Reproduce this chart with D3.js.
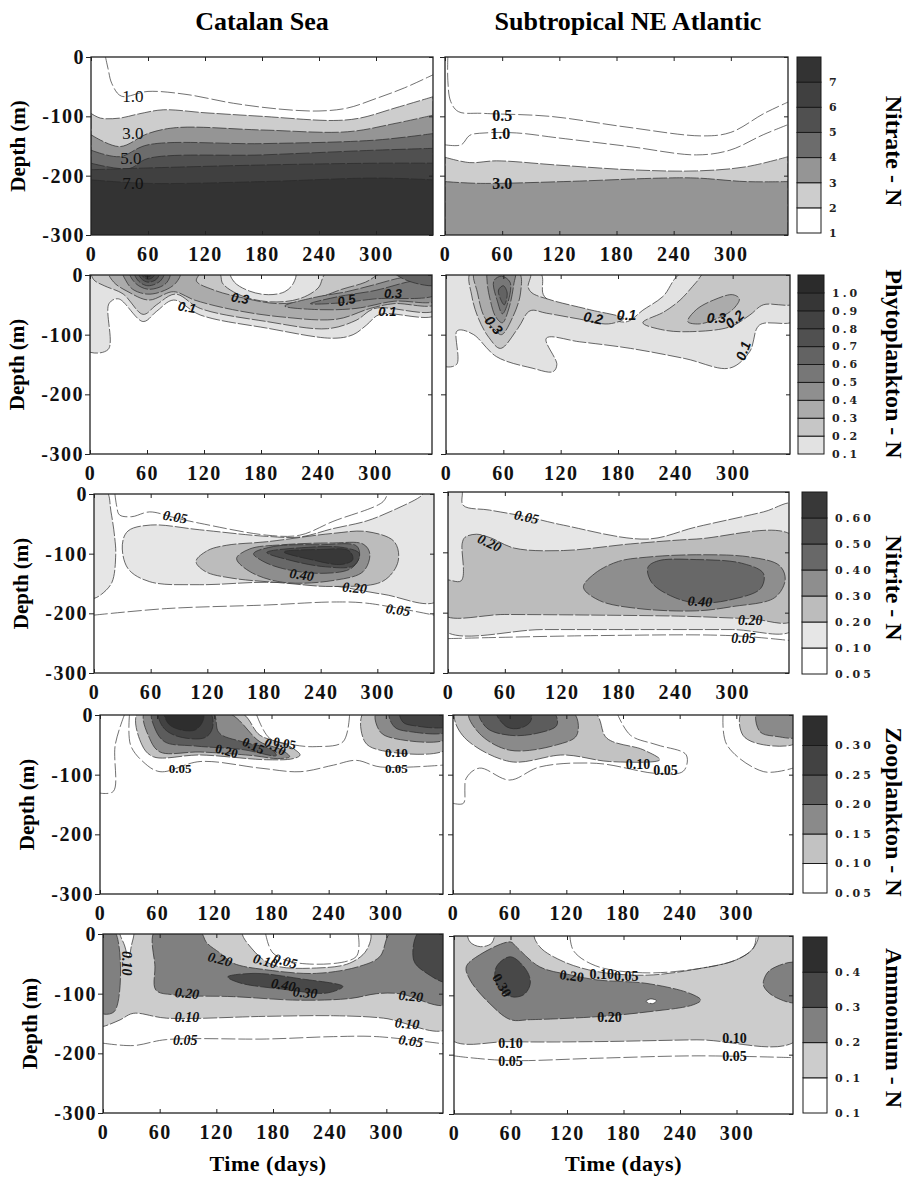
<!DOCTYPE html>
<html>
<head>
<meta charset="utf-8">
<script src="https://cdn.jsdelivr.net/npm/d3@7"></script>
<style>
  body { margin: 0; background: #fff; }
</style>
</head>
<body>
<div id="wrapper"></div>
<script>
// ---------- Data ----------
const timeTicks = [0, 60, 120, 180, 240, 300];
const depthTicks = [0, -100, -200, -300];
const columnTitles = ["Catalan Sea", "Subtropical NE Atlantic"];
const variableNames = ["Nitrate - N", "Phytoplankton - N", "Nitrite - N", "Zooplankton - N", "Ammonium - N"];

// colour bar: lower bound of each band, and the labels printed on the bar
const nitrateLevels = [1, 2, 3, 4, 5, 6, 7];
const nitrateBarLabels = ["1", "2", "3", "4", "5", "6", "7"];
const phytoLevels = [0.1, 0.2, 0.3, 0.4, 0.5, 0.6, 0.7, 0.8, 0.9, 1.0];
const phytoBarLabels = ["0.1", "0.2", "0.3", "0.4", "0.5", "0.6", "0.7", "0.8", "0.9", "1.0"];
const nitriteLevels = [0.05, 0.10, 0.20, 0.30, 0.40, 0.50, 0.60];
const nitriteBarLabels = ["0.05", "0.10", "0.20", "0.30", "0.40", "0.50", "0.60"];
const zooLevels = [0.05, 0.10, 0.15, 0.20, 0.25, 0.30];
const zooBarLabels = ["0.05", "0.10", "0.15", "0.20", "0.25", "0.30"];
const ammoniumLevels = [0.05, 0.1, 0.2, 0.3, 0.4];
const ammoniumBarLabels = ["0.1", "0.1", "0.2", "0.3", "0.4"];

// contour fields as [time (days), depth (m)] outlines, value = band lower bound
// nitrate: contour lines, everything below the line is >= value
const catalanNitrate = [
  { v: 2, pts: [[0,95],[10,103],[30,103],[50,96],[76,89],[120,94],[180,100],[255,107],[283,103],[320,86],[360,67]] },
  { v: 3, pts: [[0,131],[30,151],[60,129],[90,119],[180,123],[270,126],[320,112],[360,98]] },
  { v: 4, pts: [[0,157],[30,168],[60,148],[180,146],[300,140],[360,129]] },
  { v: 5, pts: [[0,179],[40,188],[60,171],[180,165],[300,157],[360,154]] },
  { v: 6, pts: [[0,190],[60,187],[180,182],[300,179],[360,179]] },
  { v: 7, pts: [[0,207],[60,213],[180,210],[300,204],[360,207]] }
];
const catalanNitrateLines = [
  [[15,-2],[18,20],[22,45],[32,66],[60,58],[100,63],[150,78],[200,88],[240,91],[270,86],[300,70],[330,52],[360,30]]
];
const catalanNitrateLabels = [
  { text: "1.0", t: 44, d: 66, a: 0 }, { text: "3.0", t: 44, d: 128, a: 0 },
  { text: "5.0", t: 42, d: 171, a: 0 }, { text: "7.0", t: 44, d: 213, a: 0 }
];

const atlanticNitrate = [
  { v: 2, pts: [[0,169],[26,178],[54,175],[117,182],[194,190],[264,192],[316,185],[360,168]] },
  { v: 3, pts: [[0,210],[37,213],[124,210],[229,204],[264,204],[316,210],[360,210]] }
];
const atlanticNitrateLines = [
  [[3,-2],[3,40],[6,75],[14,92],[40,95],[110,100],[190,118],[270,133],[300,127],[335,95],[360,76]],
  [[0,148],[17,148],[26,132],[42,128],[75,128],[117,136],[194,151],[264,165],[299,157],[334,131],[360,114]]
];
const atlanticNitrateLabels = [
  { text: "0.5", t: 60, d: 98, a: 0 }, { text: "1.0", t: 58, d: 129, a: 0 }, { text: "3.0", t: 60, d: 213, a: 0 }
];

const catalanPhyto = [
  { v: 0.1, pts: [[-5,-5],[365,-5],[365,66],[305,66],[291,84],[277,100],[256,106],[186,89],[116,67],[88,42],[70,61],[56,78],[30,40],[20,48],[19,125],[-5,125]] },
  { v: 0, pts: [[148,-5],[152,12],[168,27],[188,33],[205,28],[214,14],[216,-5]] },
  { v: 0.2, pts: [[2,-5],[135,-5],[140,15],[160,35],[190,45],[220,40],[240,22],[250,-5],[365,-5],[365,58],[300,56],[280,76],[250,90],[186,78],[116,56],[90,32],[70,50],[56,66],[35,32],[15,18],[4,8]] },
  { v: 0.3, pts: [[20,-5],[115,-5],[112,10],[130,25],[160,38],[200,48],[240,38],[265,24],[290,12],[310,-5],[365,-5],[365,48],[320,48],[295,56],[260,74],[200,70],[150,58],[110,42],[88,28],[62,42],[40,28],[25,12]] },
  { v: 0.4, pts: [[35,-5],[95,-5],[90,14],[75,28],[60,32],[45,24],[38,10]] },
  { v: 0.4, pts: [[205,52],[235,38],[270,28],[300,16],[330,4],[365,2],[365,42],[320,44],[280,56],[240,58]] },
  { v: 0.5, pts: [[42,-5],[84,-5],[80,14],[62,24],[48,14]] },
  { v: 0.5, pts: [[232,48],[262,36],[300,26],[340,10],[365,8],[365,32],[300,40],[262,47]] },
  { v: 0.6, pts: [[47,-5],[78,-5],[74,10],[61,18],[51,10]] },
  { v: 0.6, pts: [[320,-5],[365,-5],[365,16],[335,10]] },
  { v: 0.7, pts: [[51,-5],[73,-5],[70,7],[61,12],[54,6]] },
  { v: 0.8, pts: [[54,-5],[69,-5],[66,4],[61,7],[56,3]] },
  { v: 0.9, pts: [[56,-5],[66,-5],[63,2],[59,3]] }
];
const catalanPhytoLabels = [
  { text: "0.3", t: 158, d: 39, a: 10 }, { text: "0.5", t: 270, d: 42, a: -12 },
  { text: "0.3", t: 319, d: 31, a: 0 }, { text: "0.1", t: 102, d: 54, a: 10 },
  { text: "0.1", t: 313, d: 61, a: 0 }
];

const atlanticPhyto = [
  { v: 0.1, pts: [[-5,-5],[98,-5],[103,36],[140,60],[175,76],[190,78],[206,59],[227,36],[248,-5],[365,-5],[365,76],[328,84],[318,128],[297,156],[250,140],[193,123],[140,112],[105,106],[116,150],[112,162],[90,156],[53,137],[29,100],[15,92],[11,95],[11,150],[-5,150]] },
  { v: 0.2, pts: [[26,-5],[88,-5],[86,20],[90,30],[110,42],[150,58],[186,73],[170,82],[140,74],[105,64],[88,60],[75,90],[57,123],[45,105],[34,73],[27,35]] },
  { v: 0.2, pts: [[206,80],[228,62],[245,42],[262,12],[272,-5],[365,-5],[365,47],[332,50],[318,67],[297,87],[255,95],[227,92]] },
  { v: 0.3, pts: [[30,-5],[76,-5],[78,30],[70,70],[58,100],[50,90],[40,70],[33,30]] },
  { v: 0.3, pts: [[253,78],[262,58],[280,42],[300,33],[307,40],[300,58],[285,72],[265,82]] },
  { v: 0.4, pts: [[44,-5],[72,-5],[71,15],[66,55],[59,80],[52,70],[46,40],[43,10]] },
  { v: 0.5, pts: [[50,10],[58,2],[67,12],[65,45],[59,65],[54,45]] },
  { v: 0.6, pts: [[55,25],[60,18],[64,30],[61,50],[57,40]] }
];
const atlanticPhytoLabels = [
  { text: "0.3", t: 50, d: 84, a: 50 }, { text: "0.2", t: 154, d: 72, a: 10 },
  { text: "0.1", t: 189, d: 67, a: 0 }, { text: "0.3", t: 283, d: 72, a: 0 },
  { text: "0.2", t: 302, d: 74, a: -40 }, { text: "0.1", t: 311, d: 127, a: -70 }
];

const catalanNitrite = [
  { v: 0.1, pts: [[-5,-5],[13,-5],[18,30],[22,74],[23,102],[19,148],[8,168],[0,175],[-5,175]] },
  { v: 0.1, pts: [[30,85],[36,62],[60,52],[112,60],[183,71],[218,72],[253,58],[289,45],[320,25],[345,5],[352,-5],[365,-5],[365,178],[306,168],[253,154],[183,148],[112,152],[59,147],[36,125]] },
  { v: 0.2, pts: [[108,113],[120,95],[140,86],[183,80],[253,66],[289,63],[318,80],[322,113],[306,146],[253,155],[200,149],[146,141],[118,130]] },
  { v: 0.3, pts: [[151,108],[165,92],[200,85],[253,82],[285,84],[292,100],[285,130],[253,145],[200,148],[165,130]] },
  { v: 0.4, pts: [[169,100],[190,88],[240,85],[278,87],[281,105],[272,125],[240,133],[200,125],[178,112]] },
  { v: 0.5, pts: [[183,98],[220,90],[265,90],[281,100],[275,120],[245,122],[205,110]] },
  { v: 0.6, pts: [[201,97],[240,93],[270,95],[274,110],[262,118],[230,110]] }
];
const catalanNitriteLines = [
  [[22,-2],[24,20],[27,35],[40,38],[59,30],[86,40],[112,49],[183,69],[218,69],[253,46],[306,13],[311,-2]],
  [[0,203],[77,192],[183,186],[253,181],[289,183],[360,203]]
];
const catalanNitriteLabels = [
  { text: "0.05", t: 86, d: 38, a: 10 }, { text: "0.40", t: 220, d: 135, a: 8 },
  { text: "0.20", t: 276, d: 157, a: 5 }, { text: "0.05", t: 322, d: 194, a: 8 }
];

const atlanticNitrite = [
  { v: 0.1, pts: [[-5,-5],[14,-5],[16,22],[44,30],[83,41],[122,55],[210,78],[262,58],[333,33],[365,20],[365,120],[365,228],[300,228],[200,228],[100,228],[-5,228],[-5,120]] },
  { v: 0.2, pts: [[-5,147],[14,147],[15,85],[18,75],[30,70],[45,76],[70,93],[122,97],[193,86],[262,78],[365,74],[365,212],[319,210],[250,206],[150,204],[60,203],[-5,203]] },
  { v: 0.3, pts: [[143,158],[155,135],[180,115],[210,108],[262,104],[320,108],[350,122],[356,145],[345,175],[300,190],[262,197],[200,193],[160,180]] },
  { v: 0.4, pts: [[211,125],[222,114],[262,112],[310,118],[333,135],[330,160],[300,178],[262,184],[235,172],[215,150]] }
];
const atlanticNitriteLines = [
  [[0,243],[157,238],[298,238],[360,246]]
];
const atlanticNitriteLabels = [
  { text: "0.05", t: 83, d: 41, a: 12 }, { text: "0.20", t: 44, d: 84, a: 25 },
  { text: "0.40", t: 266, d: 181, a: 3 }, { text: "0.20", t: 319, d: 213, a: 0 },
  { text: "0.05", t: 312, d: 242, a: 0 }
];

const catalanZoo = [
  { v: 0.10, pts: [[40,-5],[44,50],[56,70],[105,67],[175,75],[203,73],[210,67],[196,50],[168,34],[147,-5]] },
  { v: 0.10, pts: [[277,-5],[278,45],[294,59],[365,56],[365,-5]] },
  { v: 0.15, pts: [[47,-5],[52,39],[63,62],[105,62],[160,68],[186,73],[199,70],[190,58],[168,45],[133,-5]] },
  { v: 0.15, pts: [[290,-5],[294,28],[308,39],[365,39],[365,-5]] },
  { v: 0.20, pts: [[55,-5],[57,20],[68,45],[100,52],[150,58],[185,68],[180,58],[150,45],[125,30],[118,-5]] },
  { v: 0.20, pts: [[304,-5],[309,20],[326,28],[365,27],[365,-5]] },
  { v: 0.25, pts: [[62,-5],[66,20],[80,35],[110,38],[118,22],[115,-5]] },
  { v: 0.25, pts: [[315,-5],[318,12],[330,18],[365,18],[365,-5]] },
  { v: 0.30, pts: [[68,-5],[72,15],[85,25],[100,25],[108,10],[108,-5]] }
];
const catalanZooLines = [
  [[26,-2],[16,50],[14,128],[0,131]],
  [[31,-2],[32,50],[45,78],[63,95],[105,78],[168,89],[210,95],[245,84],[269,76],[294,87],[360,84]],
  [[164,-2],[178,39],[203,50],[227,53],[255,45],[262,-2]]
];
const catalanZooLabels = [
  { text: "0.05", t: 84, d: 90, a: 0 }, { text: "0.20", t: 133, d: 60, a: 15 },
  { text: "0.15", t: 161, d: 51, a: 25 }, { text: "0.10", t: 184, d: 53, a: 30 },
  { text: "0.05", t: 194, d: 47, a: 10 }, { text: "0.10", t: 311, d: 62, a: 0 },
  { text: "0.05", t: 311, d: 90, a: 0 }
];

const atlanticZoo = [
  { v: 0.10, pts: [[3,-5],[10,34],[60,78],[117,67],[166,78],[219,75],[201,58],[163,39],[149,-5]] },
  { v: 0.10, pts: [[306,-5],[307,34],[329,50],[365,45],[365,-5]] },
  { v: 0.15, pts: [[17,-5],[28,31],[60,59],[110,50],[131,34],[127,-5]] },
  { v: 0.15, pts: [[322,-5],[325,28],[343,36],[365,36],[365,-5]] },
  { v: 0.20, pts: [[28,-5],[36,22],[60,34],[88,31],[110,17],[106,-5]] },
  { v: 0.25, pts: [[46,-5],[57,20],[71,22],[82,11],[82,-5]] }
];
const atlanticZooLines = [
  [[0,148],[11,148],[14,106],[28,89],[60,109],[92,87],[152,81],[216,98],[244,94],[247,67],[216,50],[188,34],[174,-2]],
  [[286,-2],[290,50],[329,95],[360,89]]
];
const atlanticZooLabels = [
  { text: "0.10", t: 196, d: 83, a: 0 }, { text: "0.05", t: 225, d: 92, a: 0 }
];

const catalanAmmonium = [
  { v: 0.1, pts: [[-5,-5],[365,-5],[365,158],[297,141],[244,137],[173,138],[67,141],[32,133],[18,144],[0,155],[-5,155]] },
  { v: 0, pts: [[148,-5],[159,27],[180,52],[226,57],[261,49],[279,27],[282,-5]] },
  { v: 0, pts: [[18,-5],[32,-5],[30,20],[27,40],[23,20]] },
  { v: 0.2, pts: [[-5,-5],[12,-5],[12,130],[-5,130]] },
  { v: 0.2, pts: [[55,-5],[102,-5],[110,15],[124,32],[138,49],[173,60],[226,66],[272,54],[293,38],[306,-5],[365,-5],[365,117],[314,100],[290,100],[262,108],[209,111],[138,105],[75,102],[56,94],[55,55]] },
  { v: 0.3, pts: [[132,72],[161,66],[209,75],[254,88],[237,99],[193,93],[145,82]] },
  { v: 0.3, pts: [[335,-5],[329,44],[343,66],[365,80],[365,-5]] }
];
const catalanAmmoniumLines = [
  [[0,183],[32,187],[67,177],[173,176],[244,172],[290,172],[360,184]],
  [[172,-2],[180,32],[208,49],[268,38],[270,-2]]
];
const catalanAmmoniumLabels = [
  { text: "0.10", t: 25, d: 49, a: 90 }, { text: "0.20", t: 124, d: 42, a: 15 },
  { text: "0.10", t: 172, d: 45, a: 15 }, { text: "0.05", t: 193, d: 45, a: 15 },
  { text: "0.40", t: 191, d: 85, a: 10 }, { text: "0.30", t: 214, d: 98, a: 5 },
  { text: "0.20", t: 89, d: 99, a: 5 }, { text: "0.10", t: 89, d: 139, a: 0 },
  { text: "0.05", t: 87, d: 177, a: 0 }, { text: "0.20", t: 326, d: 104, a: 5 },
  { text: "0.10", t: 322, d: 150, a: 5 }, { text: "0.05", t: 326, d: 179, a: 8 }
];

const atlanticAmmonium = [
  { v: 0.1, pts: [[-5,-5],[365,-5],[365,174],[258,175],[152,178],[60,178],[-5,172]] },
  { v: 0, pts: [[86,-5],[91,18],[116,43],[152,60],[205,66],[260,55],[300,40],[318,20],[322,-5]] },
  { v: 0, pts: [[15,-5],[17,10],[28,18],[40,12],[42,-5]] },
  { v: 0.2, pts: [[13,52],[27,32],[60,10],[66,18],[91,52],[125,66],[152,74],[205,80],[251,97],[262,108],[254,116],[205,128],[152,136],[81,141],[60,141],[38,114],[17,74]] },
  { v: 0, pts: [[204,110],[209,106],[215,109],[211,114]] },
  { v: 0.2, pts: [[329,74],[336,57],[365,46],[365,111],[340,102],[329,85]] },
  { v: 0.3, pts: [[45,52],[60,35],[77,58],[81,80],[74,99],[60,102],[45,80]] }
];
const atlanticAmmoniumLines = [
  [[0,202],[16,205],[60,210],[152,206],[258,202],[360,205]],
  [[123,-2],[127,25],[150,50],[200,62],[260,55],[300,40],[318,20],[321,-2]]
];
const atlanticAmmoniumLabels = [
  { text: "0.30", t: 51, d: 83, a: 60 }, { text: "0.20", t: 125, d: 67, a: 8 },
  { text: "0.10", t: 157, d: 65, a: 0 }, { text: "0.05", t: 183, d: 67, a: 0 },
  { text: "0.20", t: 165, d: 136, a: 0 }, { text: "0.10", t: 60, d: 180, a: 0 },
  { text: "0.05", t: 60, d: 210, a: 0 }, { text: "0.10", t: 298, d: 172, a: 0 },
  { text: "0.05", t: 298, d: 203, a: 0 }
];

// ---------- Styles / layout ----------
const palettes = [
  ["#ffffff", "#cdcdcd", "#959595", "#6c6c6c", "#505050", "#404040", "#333333"],
  ["#e2e2e2", "#c6c6c6", "#ababab", "#8f8f8f", "#777777", "#636363", "#505050", "#424242", "#363636", "#2b2b2b"],
  ["#ffffff", "#e6e6e6", "#bcbcbc", "#8e8e8e", "#686868", "#4c4c4c", "#383838"],
  ["#ffffff", "#c2c2c2", "#8a8a8a", "#5c5c5c", "#424242", "#2e2e2e"],
  ["#ffffff", "#cccccc", "#808080", "#484848", "#2e2e2e"]
];
const levelSets = [nitrateLevels, phytoLevels, nitriteLevels, zooLevels, ammoniumLevels];
const barLabelSets = [nitrateBarLabels, phytoBarLabels, nitriteBarLabels, zooBarLabels, ammoniumBarLabels];

const panelData = [
  [{ fills: catalanNitrate, lines: catalanNitrateLines, labels: catalanNitrateLabels, below: true },
   { fills: atlanticNitrate, lines: atlanticNitrateLines, labels: atlanticNitrateLabels, below: true }],
  [{ fills: catalanPhyto, lines: [], labels: catalanPhytoLabels },
   { fills: atlanticPhyto, lines: [], labels: atlanticPhytoLabels }],
  [{ fills: catalanNitrite, lines: catalanNitriteLines, labels: catalanNitriteLabels },
   { fills: atlanticNitrite, lines: atlanticNitriteLines, labels: atlanticNitriteLabels }],
  [{ fills: catalanZoo, lines: catalanZooLines, labels: catalanZooLabels },
   { fills: atlanticZoo, lines: atlanticZooLines, labels: atlanticZooLabels }],
  [{ fills: catalanAmmonium, lines: catalanAmmoniumLines, labels: catalanAmmoniumLabels },
   { fills: atlanticAmmonium, lines: atlanticAmmoniumLines, labels: atlanticAmmoniumLabels }]
];

// panel boxes (the figure is a scan, rows are slightly shifted)
const layout = [
  { boxes: [[91, 433, 57, 235], [445, 788, 57, 235]], bar: [797, 821, 57, 233], titleY: 151 },
  { boxes: [[90, 432, 275, 454], [446, 790, 275, 454]], bar: [798, 824, 275, 454], titleY: 364 },
  { boxes: [[94, 434, 494, 673], [448, 789, 492, 673]], bar: [802, 827, 492, 674], titleY: 588 },
  { boxes: [[100, 443, 715, 894], [453, 793, 715, 894]], bar: [803, 827, 716, 893], titleY: 812 },
  { boxes: [[103, 443, 934, 1113], [454, 793, 936, 1114]], bar: [803, 827, 937, 1113], titleY: 1028 }
];

const labelFonts = [
  [{ f: "Liberation Serif", w: 400, s: "normal", z: 17 }, { f: "Liberation Serif", w: 700, s: "normal", z: 16 }],
  [{ f: "Liberation Sans", w: 700, s: "italic", z: 13 }, { f: "Liberation Sans", w: 700, s: "italic", z: 14 }],
  [{ f: "Liberation Serif", w: 700, s: "italic", z: 14 }, { f: "Liberation Serif", w: 700, s: "italic", z: 14 }],
  [{ f: "Liberation Serif", w: 700, s: "normal", z: 13 }, { f: "Liberation Serif", w: 700, s: "normal", z: 14 }],
  [{ f: "Liberation Serif", w: 700, s: "italic", z: 14 }, { f: "Liberation Serif", w: 700, s: "normal", z: 14 }]
];

const serif = "'Liberation Serif', 'Times New Roman', serif";

const svg = d3.select("#wrapper")
  .append("svg")
    .attr("width", 906)
    .attr("height", 1179)
    .style("background", "#fff");

function colorFor(v, levels, palette) {
  let idx = -1;
  levels.forEach((l, i) => { if (v >= l - 1e-9) idx = i; });
  return idx < 0 ? "#ffffff" : palette[idx];
}

// column titles
columnTitles.forEach((t, c) => {
  svg.append("text")
    .attr("x", c === 0 ? 262 : 628)
    .attr("y", 30)
    .attr("text-anchor", "middle")
    .style("font-family", serif)
    .style("font-weight", 700)
    .style("font-size", "26px")
    .text(t);
});

layout.forEach((row, r) => {
  row.boxes.forEach((b, c) => drawPanel(r, c, b));
  drawBar(r, row.bar);

  // variable name, rotated on the right
  svg.append("text")
    .attr("transform", `translate(886, ${row.titleY}) rotate(90)`)
    .attr("text-anchor", "middle")
    .style("font-family", serif)
    .style("font-weight", 700)
    .style("font-size", "24px")
    .text(variableNames[r]);
});

function drawPanel(r, c, b) {
  const [x0, x1, y0, y1] = b;
  const data = panelData[r][c];
  const levels = levelSets[r];
  const palette = palettes[r];
  const x = d3.scaleLinear().domain([0, 360]).range([x0, x1]);
  const y = d3.scaleLinear().domain([0, -300]).range([y0, y1]);
  const id = `clip-${r}-${c}`;

  svg.append("clipPath").attr("id", id)
    .append("rect")
      .attr("x", x0).attr("y", y0)
      .attr("width", x1 - x0).attr("height", y1 - y0);

  const g = svg.append("g").attr("clip-path", `url(#${id})`);
  g.append("rect")
    .attr("x", x0).attr("y", y0)
    .attr("width", x1 - x0).attr("height", y1 - y0)
    .attr("fill", "#fff");

  const closed = d3.line()
    .x(p => x(p[0])).y(p => y(-p[1]))
    .curve(d3.curveCatmullRomClosed.alpha(0.5));
  const open = d3.line()
    .x(p => x(p[0])).y(p => y(-p[1]))
    .curve(d3.curveCatmullRom.alpha(0.5));
  const below = d3.area()
    .x(p => x(p[0])).y0(y1 + 5).y1(p => y(-p[1]))
    .curve(d3.curveCatmullRom.alpha(0.5));

  data.fills.forEach(s => {
    g.append("path")
      .attr("d", data.below ? below(s.pts) : closed(s.pts))
      .attr("fill", colorFor(s.v, levels, palette))
      .attr("stroke", "#2a2a2a")
      .attr("stroke-width", 0.7)
      .attr("stroke-dasharray", "14,2");
  });

  data.lines.forEach(l => {
    g.append("path")
      .attr("d", open(l))
      .attr("fill", "none")
      .attr("stroke", "#333")
      .attr("stroke-width", 0.7)
      .attr("stroke-dasharray", "14,3");
  });

  const font = labelFonts[r][c];
  g.selectAll(".clabel")
    .data(data.labels)
    .join("text")
      .attr("transform", d => `translate(${x(d.t)}, ${y(-d.d)}) rotate(${d.a})`)
      .attr("text-anchor", "middle")
      .attr("dy", "0.35em")
      .style("font-family", font.f)
      .style("font-weight", font.w)
      .style("font-style", font.s)
      .style("font-size", font.z + "px")
      .style("fill", "#111")
      .text(d => d.text);

  // frame
  svg.append("rect")
    .attr("x", x0).attr("y", y0)
    .attr("width", x1 - x0).attr("height", y1 - y0)
    .attr("fill", "none")
    .attr("stroke", "#222")
    .attr("stroke-width", 1.3);

  const tickFont = sel => sel.selectAll("text")
    .style("font-family", serif)
    .style("font-weight", 700)
    .style("font-size", "20px")
    .style("letter-spacing", "1.5px")
    .attr("fill", "#111");

  // bottom axis (labels) with inward ticks
  const xAxis = svg.append("g")
    .attr("transform", `translate(0, ${y1})`)
    .call(d3.axisBottom(x).tickValues(timeTicks).tickSizeInner(-4).tickSizeOuter(0).tickPadding(12).tickFormat(d3.format("d")));
  xAxis.select(".domain").remove();
  tickFont(xAxis);

  const topAxis = svg.append("g")
    .attr("transform", `translate(0, ${y0})`)
    .call(d3.axisTop(x).tickValues(timeTicks).tickSizeInner(-4).tickSizeOuter(0).tickFormat(""));
  topAxis.select(".domain").remove();

  const yAxis = svg.append("g")
    .attr("transform", `translate(${x0}, 0)`)
    .call(d3.axisLeft(y).tickValues(depthTicks).tickSizeInner(5).tickSizeOuter(0).tickPadding(1)
      .tickFormat(c === 0 ? (d => String(d)) : ""));
  yAxis.select(".domain").remove();
  tickFont(yAxis);

  const rightAxis = svg.append("g")
    .attr("transform", `translate(${x1}, 0)`)
    .call(d3.axisRight(y).tickValues(depthTicks).tickSizeInner(-4).tickSizeOuter(0).tickFormat(""));
  rightAxis.select(".domain").remove();

  svg.selectAll(".tick line").attr("stroke", "#222");

  if (c === 0) {
    svg.append("text")
      .attr("transform", `translate(${x0 - 73}, ${(y0 + y1) / 2}) rotate(-90)`)
      .attr("text-anchor", "middle")
      .attr("dy", "0.35em")
      .style("font-family", serif)
      .style("font-weight", 700)
      .style("font-size", "21px")
      .text("Depth (m)");
  }
  if (r === 4) {
    svg.append("text")
      .attr("x", (x0 + x1) / 2 - (c === 0 ? 5 : 0))
      .attr("y", 1171)
      .attr("text-anchor", "middle")
      .style("font-family", serif)
      .style("font-weight", 700)
      .style("font-size", "22px")
      .style("letter-spacing", "0.5px")
      .text("Time (days)");
  }
}

function drawBar(r, bar) {
  const [bx0, bx1, by0, by1] = bar;
  const levels = levelSets[r];
  const labels = barLabelSets[r];
  const palette = palettes[r];
  const n = levels.length;
  const yb = d3.scaleLinear().domain([0, n]).range([by1, by0]);

  svg.append("g")
    .selectAll("rect")
    .data(levels)
    .join("rect")
      .attr("x", bx0)
      .attr("y", (d, i) => yb(i + 1))
      .attr("width", bx1 - bx0)
      .attr("height", (d, i) => yb(i) - yb(i + 1))
      .attr("fill", (d, i) => palette[i])
      .attr("stroke", "#1a1a1a")
      .attr("stroke-width", 1);

  svg.append("g")
    .selectAll("text")
    .data(labels)
    .join("text")
      .attr("x", bx1 + 8)
      .attr("y", (d, i) => yb(i))
      .attr("dy", "0.35em")
      .style("font-family", "'DejaVu Serif', serif")
      .style("font-weight", 700)
      .style("font-size", "11px")
      .style("letter-spacing", "3px")
      .attr("fill", "#222")
      .text(d => d);
}
</script>
</body>
</html>
